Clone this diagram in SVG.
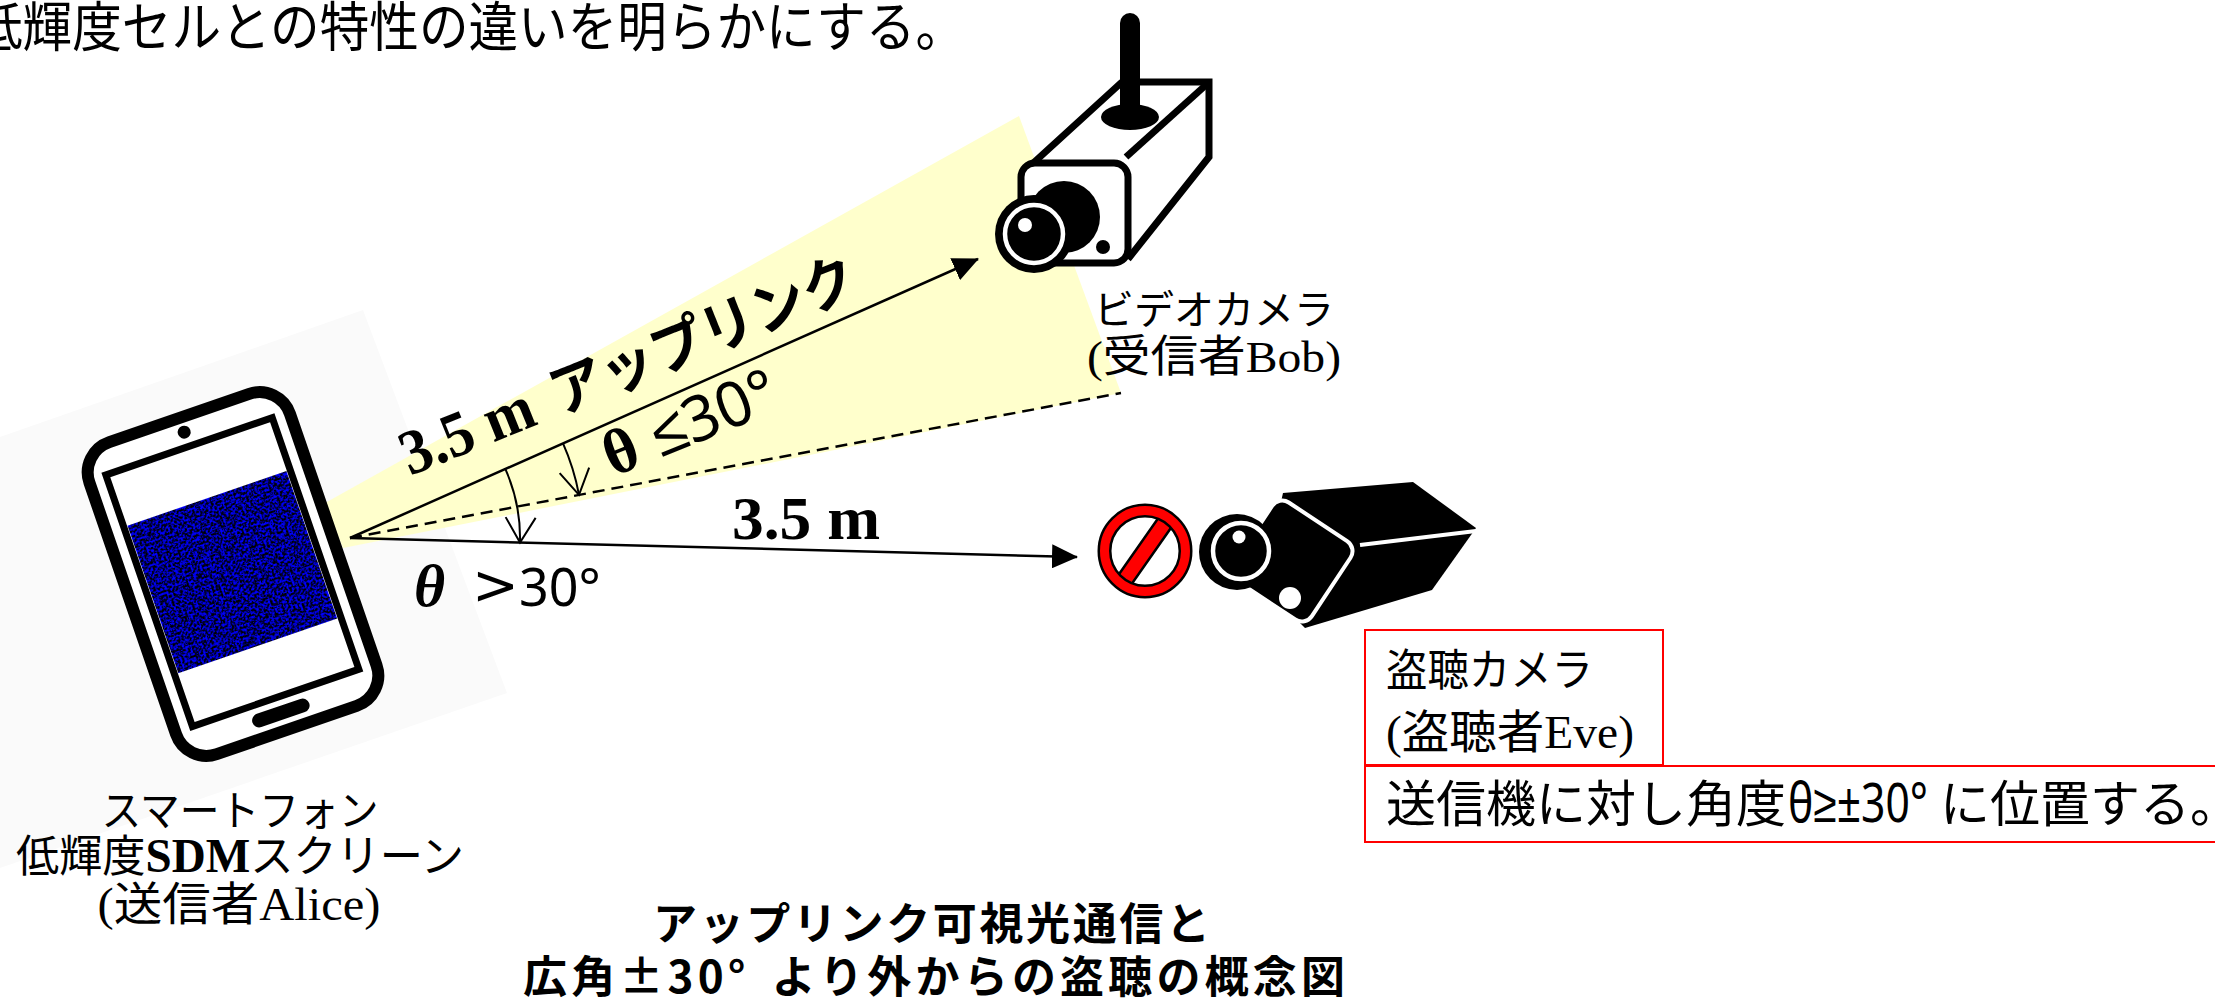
<svg xmlns="http://www.w3.org/2000/svg" width="2215" height="1002" viewBox="0 0 2215 1002">
  <defs>
    <style>
      .jp { font-family: "Noto Sans CJK JP", "Noto Sans", sans-serif; }
      .mix { font-family: "Liberation Serif", "Noto Sans CJK JP", serif; }
      .tnr { font-family: "Liberation Serif", serif; }
      .sans { font-family: "Noto Sans", "Liberation Sans", sans-serif; }
      .ln { stroke: #000; stroke-width: 2.5; fill: none; }
      .arc { stroke: #000; stroke-width: 2; fill: none; marker-end: url(#openHead); }
      .box { fill: none; stroke: #ff0000; stroke-width: 2; }
      .cam { stroke: #000; stroke-width: 7; fill: none; stroke-linejoin: miter; }
    </style>
    <marker id="solidHead" markerUnits="userSpaceOnUse" viewBox="0 0 26 24" refX="25" refY="12" markerWidth="26" markerHeight="24" orient="auto">
      <path d="M0,0 L26,12 L0,24 z" fill="#000"/>
    </marker>
    <marker id="openHead" markerUnits="userSpaceOnUse" viewBox="0 0 26 32" refX="25" refY="16" markerWidth="26" markerHeight="32" orient="auto" overflow="visible">
      <path d="M0,1 L25,16 L0,31" fill="none" stroke="#000" stroke-width="2"/>
    </marker>
    <filter id="speckle" x="0" y="0" width="1" height="1" color-interpolation-filters="sRGB">
      <feTurbulence type="fractalNoise" baseFrequency="0.45" numOctaves="2" seed="11" result="n"/>
      <feColorMatrix in="n" type="matrix" values="0 0 0 0 0  0 0 0 0 0  1 0 0 0 0  0 0 0 0 1" result="b"/>
      <feComponentTransfer in="b" result="c">
        <feFuncB type="discrete" tableValues="0 0 0 0 0.2 0.75 1 1 1 1"/>
      </feComponentTransfer>
      <feComposite in="c" in2="SourceGraphic" operator="in"/>
    </filter>
    <clipPath id="signClip">
      <circle r="35"/>
    </clipPath>
  </defs>

  <rect width="2215" height="1002" fill="#fff"/>

  <!-- heading line, clipped by the left edge -->
  <text class="jp" x="-27" y="47" font-size="54" textLength="992" lengthAdjust="spacingAndGlyphs">低輝度セルとの特性の違いを明らかにする。</text>

  <!-- soft backdrop behind the handset -->
  <polygon points="0,437 363,310 507,693 0,868" fill="#fafafa"/>

  <!-- light beam of the uplink -->
  <polygon points="325,503 1019,116 1121,393 343,548" fill="#ffffcc"/>

  <!-- connectors -->
  <g id="connectors">
    <line class="ln" x1="350" y1="538" x2="978" y2="259" marker-end="url(#solidHead)"/>
    <line class="ln" x1="350" y1="538" x2="1121" y2="393" stroke-dasharray="12 7"/>
    <line class="ln" x1="350" y1="538" x2="1077" y2="557" marker-end="url(#solidHead)"/>
    <path class="arc" d="M505.3,468.9 A170,170 0 0 1 520,542.5"/>
    <path class="arc" d="M562.9,443.2 A233,233 0 0 1 579,494.9"/>
  </g>

  <!-- link labels -->
  <g id="link-labels">
    <text class="mix" font-weight="bold" transform="translate(410,476) rotate(-22)" textLength="487" lengthAdjust="spacingAndGlyphs">
      <tspan class="tnr" font-size="64">3.5 m</tspan><tspan class="jp" font-size="58" dx="24">アップリンク</tspan>
    </text>
    <g transform="translate(613,477) rotate(-22)">
      <text class="tnr" x="0" y="0" font-size="64" font-weight="bold">θ</text>
      <text class="sans" x="52" y="0" font-size="63" textLength="131" lengthAdjust="spacingAndGlyphs">≤30°</text>
    </g>
    <text class="tnr" x="732" y="539" font-size="62" font-weight="bold" textLength="148" lengthAdjust="spacingAndGlyphs">3.5 m</text>
    <text class="tnr" x="414" y="606" font-size="60" font-weight="bold" font-style="italic">θ</text>
    <text x="472" y="604" font-size="56" font-family="DejaVu Sans, sans-serif">&gt;</text>
    <text class="sans" x="519" y="606" font-size="52">30°</text>
  </g>

  <!-- sender: smartphone -->
  <g id="phone">
    <g transform="translate(233,574) rotate(-19)">
      <rect x="-106" y="-165" width="212" height="330" rx="32" fill="#fff" stroke="#000" stroke-width="12"/>
      <rect x="-88" y="-135" width="176" height="266" fill="#fff" stroke="#000" stroke-width="7"/>
      <rect x="-84" y="-80" width="168" height="156" fill="#0000ff" filter="url(#speckle)"/>
      <circle cx="0" cy="-150" r="6.5" fill="#000"/>
      <rect x="-30" y="140" width="60" height="14" rx="7" fill="#000"/>
    </g>
    <text class="jp" x="240" y="826" font-size="42" text-anchor="middle" textLength="277" lengthAdjust="spacingAndGlyphs">スマートフォン</text>
    <text class="mix" x="240" y="872" font-size="44" text-anchor="middle" textLength="448" lengthAdjust="spacingAndGlyphs">低輝度<tspan font-weight="bold" font-size="48">SDM</tspan>スクリーン</text>
    <text class="mix" x="239" y="920" font-size="46" text-anchor="middle" textLength="283" lengthAdjust="spacingAndGlyphs">(送信者Alice)</text>
  </g>

  <!-- receiver: video camera -->
  <g id="bob-camera">
    <polygon points="1030,166 1122,82 1209,82 1209,157 1128,259" fill="#fff"/>
    <line x1="1130" y1="23" x2="1130" y2="115" stroke="#000" stroke-width="20" stroke-linecap="round"/>
    <ellipse cx="1130" cy="117" rx="29" ry="13" fill="#000"/>
    <path class="cam" d="M1030,166 L1122,82 M1120,82 L1209,82 L1209,157 L1128,259"/>
    <path class="cam" d="M1207,84 L1126,157"/>
    <rect x="1021" y="163" width="107" height="100" rx="14" fill="#fff" stroke="#000" stroke-width="7"/>
    <circle cx="1064" cy="217" r="36" fill="#000"/>
    <circle cx="1034" cy="234" r="39" fill="#000"/>
    <circle cx="1034" cy="234" r="29" fill="#000" stroke="#fff" stroke-width="4.5"/>
    <circle cx="1025" cy="225" r="7" fill="#fff"/>
    <circle cx="1103" cy="247" r="7" fill="#000"/>
    <text class="jp" x="1214" y="324" font-size="40" text-anchor="middle" textLength="240" lengthAdjust="spacingAndGlyphs">ビデオカメラ</text>
    <text class="mix" x="1214" y="372" font-size="44" text-anchor="middle" textLength="254" lengthAdjust="spacingAndGlyphs">(受信者Bob)</text>
  </g>

  <!-- prohibition mark -->
  <g id="no-entry" transform="translate(1145,551)">
    <circle r="35" fill="#fff"/>
    <g clip-path="url(#signClip)">
      <rect x="-45" y="-8" width="90" height="16" fill="#ff0000" stroke="#000" stroke-width="2.5" transform="rotate(-55)"/>
    </g>
    <circle r="40.5" fill="none" stroke="#000" stroke-width="14"/>
    <circle r="40.5" fill="none" stroke="#ff0000" stroke-width="9"/>
  </g>

  <!-- eavesdropper: camera -->
  <g id="eve-camera">
    <polygon points="1283,493 1413,482 1476,528 1432,590 1305,628 1262,585" fill="#000"/>
    <line x1="1360" y1="545" x2="1476" y2="531" stroke="#fff" stroke-width="4"/>
    <rect x="-47" y="-47" width="94" height="94" rx="12" transform="translate(1292,561) rotate(33.5)" fill="#000" stroke="#fff" stroke-width="4"/>
    <circle cx="1237" cy="552" r="38" fill="#000"/>
    <circle cx="1241" cy="551" r="28" fill="#000" stroke="#fff" stroke-width="4.5"/>
    <circle cx="1239" cy="537" r="6.5" fill="#fff"/>
    <circle cx="1290" cy="598" r="11" fill="#fff"/>
  </g>

  <!-- eavesdropper notes -->
  <g id="eve-label">
    <rect class="box" x="1365" y="630" width="298" height="135"/>
    <rect class="box" x="1365" y="766" width="860" height="76"/>
    <text class="jp" x="1386" y="686" font-size="44" textLength="207" lengthAdjust="spacingAndGlyphs">盗聴カメラ</text>
    <text class="mix" x="1386" y="748" font-size="46" textLength="248" lengthAdjust="spacingAndGlyphs">(盗聴者Eve)</text>
    <text class="jp" x="1386" y="822" font-size="50">送信機に対し角度</text>
    <text class="sans" x="1788" y="822" font-size="54" textLength="140" lengthAdjust="spacingAndGlyphs">θ≥±30°</text>
    <text class="jp" x="1940" y="822" font-size="50">に位置する。</text>
  </g>

  <!-- caption -->
  <g id="caption" class="jp" font-weight="bold" font-size="44">
    <text x="653" y="940" textLength="557" lengthAdjust="spacing">アップリンク可視光通信と</text>
    <text x="523" y="993" textLength="822" lengthAdjust="spacing">広角±30°<tspan dx="22">より外からの盗聴の概念図</tspan></text>
  </g>
</svg>
